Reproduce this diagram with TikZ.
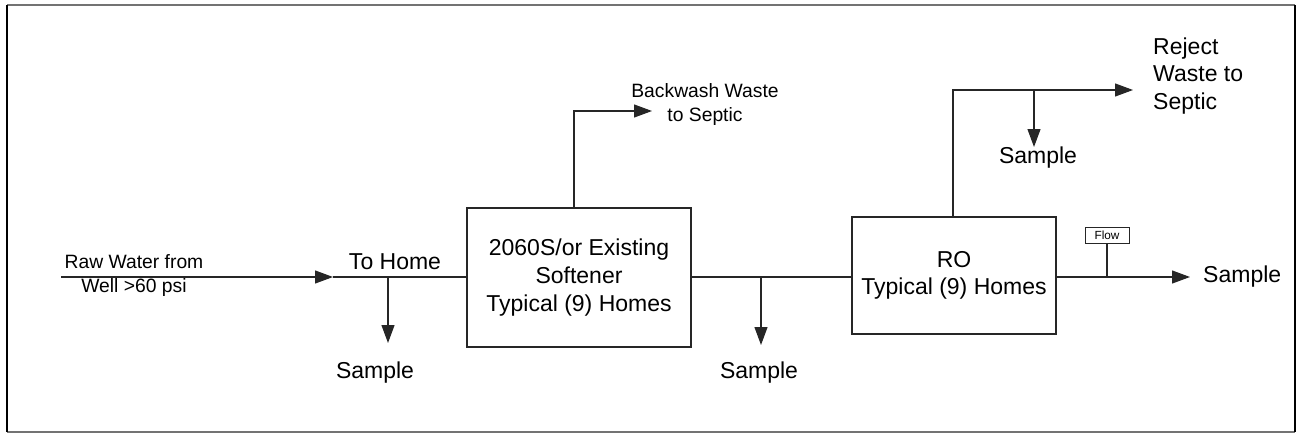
\documentclass[tikz,border=0pt]{standalone}
\usepackage{fontspec}
\setmainfont{Liberation Sans}
\usetikzlibrary{arrows.meta}
\begin{document}
\begin{tikzpicture}[x=1pt,y=-1pt,
  line/.style={draw=black!85, line width=1.2pt},
  arr/.style={line, -{Triangle[length=18pt,width=13pt]}},
  unitbox/.style={draw=black!85, line width=1.3pt, fill=white, align=center, inner sep=0pt, font=\fontsize{23}{28}\selectfont},
  big/.style={font=\fontsize{23}{27.5}\selectfont, inner sep=0pt},
  small/.style={font=\fontsize{19.3}{24}\selectfont, inner sep=0pt, align=center},
  tiny/.style={draw=black!85, line width=0.9pt, font=\fontsize{11.8}{14}\selectfont, inner sep=0pt, minimum width=44pt, minimum height=16pt}
]
\useasboundingbox (0,0) rectangle (1297,433);
% frame
\draw[black!55, line width=1.5pt] (7,5) -- (1295,5);
\draw[black!55, line width=1.5pt] (7,432) -- (1295,432);
\draw[black, line width=2pt] (7,5) -- (7,432);
\draw[black, line width=2pt] (1295,5) -- (1295,432);

% units
\node[unitbox, minimum width=224pt, minimum height=139pt] (soft) at (579,277.5) {2060S/or Existing\\Softener\\Typical (9) Homes};
\node[unitbox, minimum width=204pt, minimum height=117pt, font=\fontsize{23}{27}\selectfont] (ro) at (954,275.5) {RO\\Typical (9) Homes};

% inlet
\coordinate (in) at (61,277);
\coordinate (inarr) at (333,277);
\node[small] (raw) at (134,276) {Raw Water from\\Well >60 psi};
\node[big] (tohome) at (395,262) {To Home};
\draw[arr] (in) -- (inarr);
\draw[line] (inarr) -- (soft.west |- inarr);
\coordinate (s1) at (388,277);
\coordinate (s1end) at (388,343);
\draw[arr] (s1) -- (s1end);
\node[big] (samp1) at (375,373) {Sample};

% backwash
\coordinate (bwtop) at (574,111);
\coordinate (bwend) at (652,111);
\draw[arr] (soft.north -| bwtop) |- (bwend);
\node[small] (bw) at (705,105) {Backwash Waste\\to Septic};

% between units
\draw[line] (soft.east |- 0,277) -- (ro.west |- 0,277);
\coordinate (s2) at (761,277);
\coordinate (s2end) at (761,345);
\draw[arr] (s2) -- (s2end);
\node[big] (samp2) at (759,373) {Sample};

% reject
\coordinate (rjtop) at (953,90);
\coordinate (rjend) at (1133,90);
\draw[arr] (ro.north -| rjtop) |- (rjend);
\coordinate (s3) at (1034,90);
\coordinate (s3end) at (1034,147);
\draw[arr] (s3) -- (s3end);
\node[big] (samp3) at (1038,158) {Sample};
\node[big, anchor=west, align=left] (reject) at (1153,76) {Reject\\Waste to\\Septic};

% product
\coordinate (outend) at (1190,277);
\draw[arr] (ro.east |- outend) -- (outend);
\node[tiny] (flow) at (1107,235) {Flow};
\draw[line] (flow.south) -- (flow.south |- outend);
\node[big, anchor=west] (samp4) at (1203,277) {Sample};
\end{tikzpicture}
\end{document}
